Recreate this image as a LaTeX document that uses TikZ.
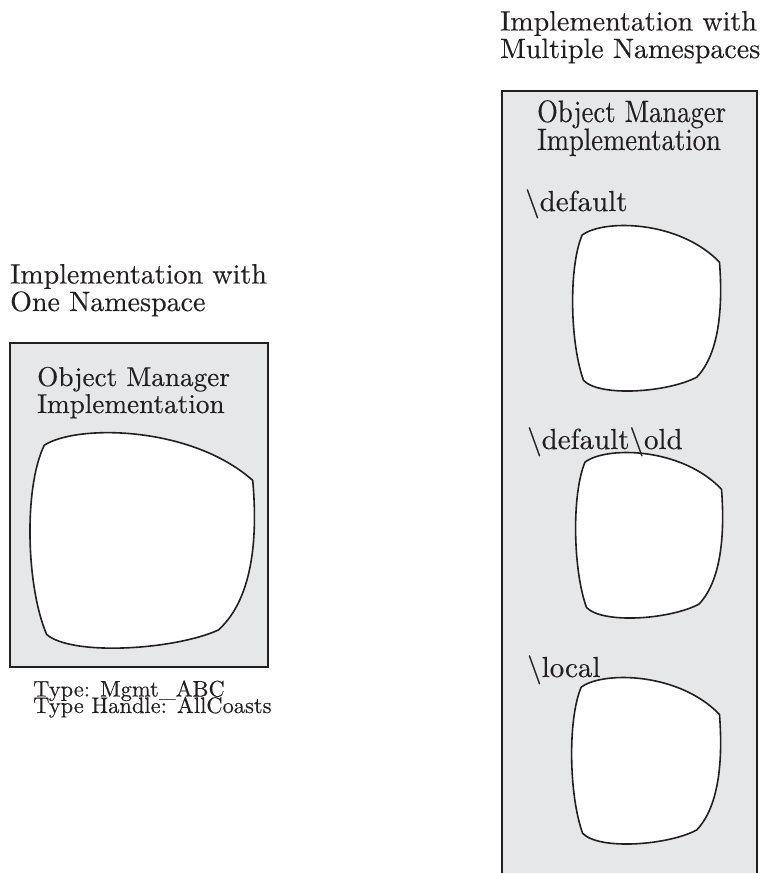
\documentclass[tikz,border=0pt]{standalone}
\usepackage{fontspec}
% Latin Modern Roman in its 10pt design at every size, slightly darkened
\newfontfamily\lmten{lmroman10-regular.otf}[FakeBold=0.3]
\definecolor{panelgray}{RGB}{230,231,233}
\definecolor{ink}{RGB}{35,31,32}
% rounded-square namespace outline in the unit square (y grows downward)
\newcommand\nsoutline{(0.08,0.06) .. controls (0.22,-0.035) and (0.72,-0.03) .. (0.99,0.22)
  .. controls (1.01,0.45) and (1.0,0.75) .. (0.84,0.90)
  .. controls (0.65,0.99) and (0.2,1.02) .. (0.09,0.92)
  .. controls (0.0,0.7) and (-0.01,0.25) .. (0.08,0.06) -- cycle}
\begin{document}
\lineskiplimit=-100pt
\begin{tikzpicture}[x=1pt,y=-1pt,
  panel/.style={fill=panelgray, draw=ink, line width=2.9pt},
  nsblob/.style={fill=white, draw=ink, line width=1.6pt, line join=round},
  txt/.style={anchor=base west, align=left, inner sep=0pt, text=ink},
  heading/.style={txt, font=\lmten\fontsize{28}{27.5}\selectfont},
  omtitle/.style={txt, font=\lmten\fontsize{27.2}{27}\selectfont},
  omtall/.style={txt, xscale=0.86, font=\lmten\fontsize{31}{28}\selectfont},
  nslabel/.style={txt, font=\lmten\fontsize{29}{29}\selectfont},
  typetext/.style={txt, font=\lmten\fontsize{22.5}{16.5}\selectfont}]
\useasboundingbox (0,0) rectangle (766,873);

% single-namespace implementation (multi-line nodes sit on their last baseline)
\draw[panel] (10,343) rectangle (268,667);
\draw[nsblob, shift={(26,432)}, xscale=229, yscale=220] \nsoutline;
\node[heading] (lhead) at (10,311) {Implementation with\\One Namespace};
\node[omtitle] (ltitle) at (37,413) {Object Manager\\Implementation};
\node[typetext] (ltype) at (33,713) {Type: Mgmt\_ABC\\Type Handle: AllCoasts};

% multiple-namespace implementation, running past the lower edge
\fill[panelgray] (503,92) rectangle (756,885);
\draw[panel, fill=none] (502,885) -- (502,91) -- (757,91) -- (757,885);
\draw[nsblob, shift={(570,225)}, xscale=151, yscale=169] \nsoutline;
\draw[nsblob, shift={(573,452)}, xscale=150, yscale=169] \nsoutline;
\draw[nsblob, shift={(569,677)}, xscale=152, yscale=170] \nsoutline;
\node[heading] (rhead) at (500,58) {Implementation with\\Multiple Namespaces};
\node[omtall] (rtitle) at (537,150) {Object Manager\\Implementation};
\node[nslabel] (nsdefault) at (525,211) {\textbackslash default};
\node[nslabel] (nsold) at (527,449) {\textbackslash default\textbackslash old};
\node[nslabel] (nslocal) at (527,677) {\textbackslash local};
\end{tikzpicture}
\end{document}
